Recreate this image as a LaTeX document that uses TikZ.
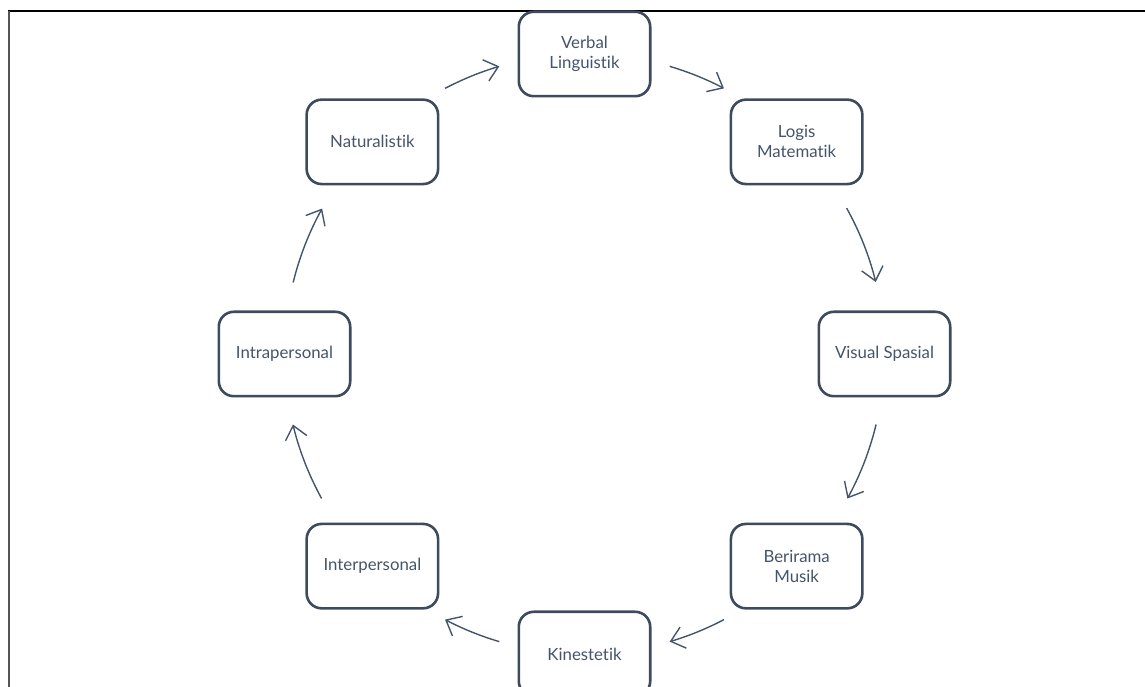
\documentclass[tikz,border=0pt]{standalone}
\usepackage{fontspec}
\setmainfont[Ligatures={NoCommon,NoRequired,NoContextual,NoDiscretionary}]{Lato}
\usetikzlibrary{arrows.meta,calc}
\definecolor{slate}{HTML}{44546A}
\definecolor{boxline}{HTML}{3E4B5C}
\definecolor{framegray}{HTML}{555555}
\begin{document}
\begin{tikzpicture}[x=1pt,y=1pt,
  box/.style={draw=boxline, line width=2.6pt, rounded corners=15pt,
    minimum width=131.4pt, minimum height=84.4pt, text=slate, align=center,
    font=\fontsize{16.8}{20}\selectfont, inner sep=0pt},
  arr/.style={draw=slate, line width=1.4pt,
    -{Straight Barb[length=13pt,width=22pt,line width=1.4pt]}}]
\useasboundingbox (0,0) rectangle (1145,687);
% frame
\draw[black, line width=1.2pt] (8,676) -- (1145,676);
\draw[framegray, line width=2pt] (8.5,676) -- (8.5,0);
% centre
\coordinate (c) at (584.5,333);
% boxes
\node[box] (verbal)   at ($(c)+(90:300)$)  {Verbal\\Linguistik};
\node[box] (logis)    at ($(c)+(45:300)$)  {Logis\\Matematik};
\node[box] (visual)   at ($(c)+(0:300)$)   {Visual Spasial};
\node[box] (berirama) at ($(c)+(-45:300)$) {Berirama\\Musik};
\node[box] (kin)      at ($(c)+(-90:300)$) {Kinestetik};
\node[box] (inter)    at ($(c)+(-135:300)$) {Interpersonal};
\node[box] (intra)    at ($(c)+(180:300)$) {Intrapersonal};
\node[box] (natur)    at ($(c)+(135:300)$) {Naturalistik};
% arrows (arcs on the circle)
\draw[arr] ($(c)+(117.7:300)$) arc[start angle=117.7, end angle=106.5, radius=300];
\draw[arr] ($(c)+(73.5:300)$)  arc[start angle=73.5,  end angle=62.3,  radius=300];
\draw[arr] ($(c)+(29.1:300)$)  arc[start angle=29.1,  end angle=13.9,  radius=300];
\draw[arr] ($(c)+(-13.6:300)$) arc[start angle=-13.6, end angle=-28.8, radius=300];
\draw[arr] ($(c)+(-62.3:300)$) arc[start angle=-62.3, end angle=-73.5, radius=300];
\draw[arr] ($(c)+(-106.5:300)$) arc[start angle=-106.5, end angle=-117.7, radius=300];
\draw[arr] ($(c)+(-151.2:300)$) arc[start angle=-151.2, end angle=-166.4, radius=300];
\draw[arr] ($(c)+(166.2:300)$) arc[start angle=166.2, end angle=151.0, radius=300];
\end{tikzpicture}
\end{document}
